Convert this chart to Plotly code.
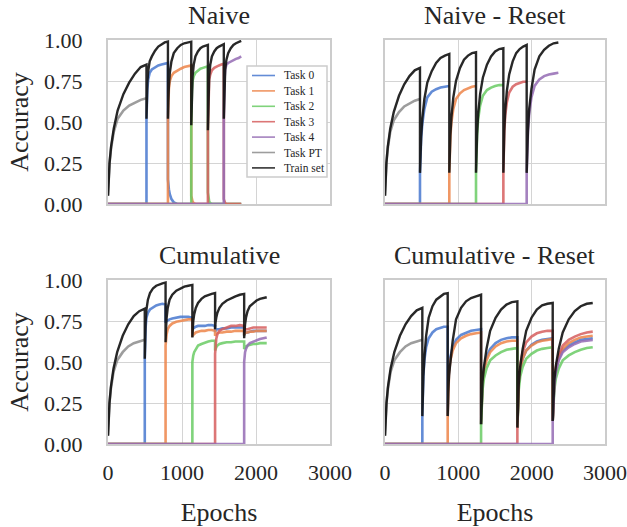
import plotly.graph_objects as go

# ---------------- data ----------------
# sample positions inside each training phase (fraction of the phase length)
FRAC = [0, 0.015, 0.04, 0.08, 0.15, 0.25, 0.4, 0.55, 0.7, 0.85, 1.0]
Z = [0, 0, 0, 0, 0, 0, 0, 0, 0, 0, 0]

SERIES_NAMES = ["Task 0", "Task 1", "Task 2", "Task 3", "Task 4", "Task PT", "Train set"]
COLORS = ["#4878d0", "#ee854a", "#6acc64", "#d65f5f", "#956cb4", "#8c8c8c", "#111111"]
PANEL_TITLES = ["Naive", "Naive - Reset", "Cumulative", "Cumulative - Reset"]
X_TICKS = [0, 1000, 2000, 3000]
Y_TICKS = [0, 0.25, 0.5, 0.75, 1.0]
Y_TICKTEXT = ["0.00", "0.25", "0.50", "0.75", "1.00"]

# ---- Naive ----
NV_BOUNDS = [0, 520, 810, 1125, 1350, 1565, 1800]
NV_TRAIN = [
    [0.05, 0.15, 0.25, 0.35, 0.46, 0.57, 0.67, 0.74, 0.795, 0.835, 0.85],
    [0.52, 0.64, 0.74, 0.81, 0.87, 0.90, 0.935, 0.96, 0.975, 0.985, 0.99],
    [0.52, 0.62, 0.72, 0.80, 0.87, 0.92, 0.95, 0.97, 0.98, 0.985, 0.99],
    [0.48, 0.60, 0.70, 0.78, 0.85, 0.90, 0.93, 0.95, 0.96, 0.965, 0.97],
    [0.45, 0.58, 0.69, 0.78, 0.85, 0.90, 0.93, 0.95, 0.96, 0.97, 0.975],
    [0.52, 0.64, 0.74, 0.82, 0.88, 0.92, 0.95, 0.97, 0.98, 0.99, 0.995]]
NV_PT = [[0.05, 0.15, 0.25, 0.34, 0.44, 0.52, 0.57, 0.60, 0.62, 0.635, 0.645],
         None, None, None, None, None]
NV_T0 = [Z, [0.52, 0.62, 0.70, 0.76, 0.80, 0.82, 0.835, 0.845, 0.85, 0.855, 0.86],
         [0.15, 0.12, 0.09, 0.06, 0.03, 0.01, 0, 0, 0, 0, 0], Z, Z, Z]
NV_T1 = [Z, Z, [0.52, 0.62, 0.70, 0.75, 0.78, 0.80, 0.815, 0.825, 0.835, 0.84, 0.845],
         [0.05, 0.04, 0.03, 0.015, 0.005, 0, 0, 0, 0, 0, 0], Z, Z]
NV_T2 = [Z, Z, Z, [0.48, 0.60, 0.69, 0.75, 0.78, 0.80, 0.815, 0.825, 0.83, 0.835, 0.84],
         [0.07, 0.05, 0.03, 0.015, 0.005, 0, 0, 0, 0, 0, 0], Z]
NV_T3 = [Z, Z, Z, Z, [0.45, 0.58, 0.69, 0.76, 0.79, 0.815, 0.83, 0.84, 0.845, 0.85, 0.855],
         [0.03, 0.02, 0.01, 0.005, 0, 0, 0, 0, 0, 0, 0]]
NV_T4 = [Z, Z, Z, Z, Z, [0.52, 0.65, 0.76, 0.82, 0.85, 0.86, 0.87, 0.88, 0.885, 0.89, 0.90]]

# ---- Naive - Reset ----
NR_BOUNDS = [0, 477, 877, 1241, 1614, 1932, 2364]
NR_TRAIN = [
    [0.05, 0.15, 0.25, 0.35, 0.46, 0.56, 0.66, 0.73, 0.78, 0.815, 0.83],
    [0.19, 0.30, 0.41, 0.52, 0.64, 0.74, 0.81, 0.86, 0.89, 0.905, 0.915],
    [0.19, 0.30, 0.42, 0.53, 0.65, 0.75, 0.83, 0.88, 0.905, 0.92, 0.925],
    [0.19, 0.31, 0.43, 0.55, 0.67, 0.77, 0.85, 0.90, 0.93, 0.945, 0.95],
    [0.19, 0.32, 0.45, 0.57, 0.69, 0.79, 0.87, 0.92, 0.945, 0.96, 0.97],
    [0.19, 0.32, 0.45, 0.58, 0.70, 0.82, 0.90, 0.94, 0.965, 0.98, 0.985]]
NR_PT = [[0.05, 0.15, 0.25, 0.34, 0.44, 0.51, 0.56, 0.595, 0.615, 0.63, 0.64],
         None, None, None, None, None]
NR_T0 = [Z, [0.19, 0.30, 0.40, 0.49, 0.58, 0.65, 0.685, 0.70, 0.71, 0.715, 0.72],
         None, None, None, None]
NR_T1 = [Z, Z, [0.19, 0.30, 0.41, 0.50, 0.58, 0.64, 0.675, 0.695, 0.705, 0.715, 0.72],
         None, None, None]
NR_T2 = [Z, Z, Z, [0.19, 0.31, 0.42, 0.52, 0.60, 0.66, 0.695, 0.71, 0.72, 0.725, 0.725],
         None, None]
NR_T3 = [Z, Z, Z, Z, [0.19, 0.32, 0.44, 0.54, 0.62, 0.68, 0.715, 0.73, 0.74, 0.745, 0.745],
         None]
NR_T4 = [Z, Z, Z, Z, Z, [0.19, 0.32, 0.44, 0.55, 0.65, 0.72, 0.76, 0.78, 0.79, 0.795, 0.80]]

# ---- Cumulative ----
CU_BOUNDS = [0, 497, 778, 1140, 1447, 1840, 2145]
CU_TRAIN = [
    [0.05, 0.15, 0.25, 0.35, 0.46, 0.56, 0.66, 0.73, 0.78, 0.81, 0.825],
    [0.52, 0.64, 0.74, 0.82, 0.88, 0.92, 0.95, 0.965, 0.975, 0.98, 0.985],
    [0.62, 0.70, 0.77, 0.83, 0.88, 0.91, 0.935, 0.95, 0.96, 0.965, 0.97],
    [0.65, 0.70, 0.75, 0.79, 0.83, 0.86, 0.885, 0.90, 0.91, 0.915, 0.92],
    [0.70, 0.74, 0.77, 0.80, 0.83, 0.855, 0.875, 0.89, 0.90, 0.91, 0.915],
    [0.645, 0.69, 0.73, 0.77, 0.81, 0.84, 0.86, 0.875, 0.885, 0.89, 0.895]]
CU_PT = [[0.05, 0.15, 0.25, 0.34, 0.44, 0.51, 0.56, 0.595, 0.615, 0.625, 0.635],
         None, None, None, None, None]
CU_T0 = [Z, [0.52, 0.62, 0.71, 0.77, 0.80, 0.82, 0.835, 0.845, 0.85, 0.855, 0.85],
         [0.74, 0.745, 0.75, 0.755, 0.76, 0.765, 0.77, 0.775, 0.775, 0.775, 0.77],
         [0.70, 0.70, 0.705, 0.71, 0.715, 0.72, 0.72, 0.72, 0.725, 0.725, 0.72],
         [0.69, 0.69, 0.695, 0.70, 0.70, 0.705, 0.705, 0.71, 0.71, 0.71, 0.71],
         [0.67, 0.67, 0.675, 0.68, 0.68, 0.685, 0.69, 0.69, 0.69, 0.69, 0.69]]
CU_T1 = [Z, Z, [0.60, 0.64, 0.67, 0.70, 0.72, 0.735, 0.745, 0.75, 0.755, 0.76, 0.76],
         [0.66, 0.66, 0.665, 0.67, 0.68, 0.685, 0.69, 0.69, 0.695, 0.695, 0.69],
         [0.66, 0.665, 0.67, 0.675, 0.68, 0.68, 0.685, 0.685, 0.69, 0.69, 0.69],
         [0.67, 0.67, 0.675, 0.68, 0.68, 0.685, 0.685, 0.69, 0.69, 0.69, 0.69]]
CU_T2 = [Z, Z, Z, [0.50, 0.52, 0.54, 0.56, 0.58, 0.60, 0.61, 0.62, 0.625, 0.63, 0.63],
         [0.57, 0.58, 0.59, 0.60, 0.61, 0.615, 0.62, 0.62, 0.625, 0.625, 0.625],
         [0.58, 0.585, 0.59, 0.595, 0.60, 0.605, 0.61, 0.61, 0.615, 0.615, 0.615]]
CU_T3 = [Z, Z, Z, Z, [0.55, 0.60, 0.64, 0.67, 0.69, 0.70, 0.71, 0.72, 0.72, 0.725, 0.72],
         [0.69, 0.69, 0.695, 0.70, 0.70, 0.705, 0.71, 0.71, 0.71, 0.71, 0.71]]
CU_T4 = [Z, Z, Z, Z, Z, [0.50, 0.53, 0.56, 0.58, 0.60, 0.615, 0.625, 0.635, 0.64, 0.645, 0.65]]

# ---- Cumulative - Reset ----
CR_BOUNDS = [0, 509, 855, 1310, 1805, 2287, 2833]
CR_TRAIN = [
    [0.05, 0.15, 0.25, 0.35, 0.46, 0.56, 0.66, 0.73, 0.78, 0.815, 0.83],
    [0.17, 0.30, 0.41, 0.52, 0.66, 0.77, 0.84, 0.88, 0.90, 0.915, 0.92],
    [0.17, 0.31, 0.42, 0.50, 0.63, 0.76, 0.83, 0.87, 0.89, 0.90, 0.91],
    [0.12, 0.27, 0.38, 0.47, 0.58, 0.69, 0.77, 0.82, 0.85, 0.865, 0.87],
    [0.10, 0.25, 0.37, 0.47, 0.58, 0.69, 0.77, 0.82, 0.845, 0.855, 0.86],
    [0.14, 0.28, 0.39, 0.48, 0.58, 0.68, 0.76, 0.81, 0.84, 0.855, 0.86]]
CR_PT = [[0.05, 0.15, 0.25, 0.34, 0.44, 0.51, 0.56, 0.595, 0.615, 0.625, 0.635],
         None, None, None, None, None]
CR_T0 = [Z, [0.17, 0.29, 0.41, 0.51, 0.59, 0.645, 0.68, 0.70, 0.71, 0.715, 0.715],
         [0.17, 0.33, 0.44, 0.53, 0.59, 0.635, 0.665, 0.68, 0.69, 0.695, 0.70],
         [0.12, 0.27, 0.38, 0.46, 0.53, 0.58, 0.615, 0.635, 0.645, 0.65, 0.65],
         [0.10, 0.26, 0.37, 0.45, 0.52, 0.57, 0.605, 0.625, 0.635, 0.64, 0.645],
         [0.14, 0.27, 0.37, 0.45, 0.52, 0.57, 0.60, 0.62, 0.635, 0.64, 0.645]]
CR_T1 = [Z, Z, [0.17, 0.32, 0.43, 0.51, 0.57, 0.615, 0.645, 0.66, 0.67, 0.675, 0.68],
         [0.12, 0.26, 0.36, 0.44, 0.51, 0.56, 0.595, 0.615, 0.625, 0.63, 0.63],
         [0.10, 0.26, 0.37, 0.45, 0.52, 0.57, 0.60, 0.62, 0.63, 0.635, 0.64],
         [0.14, 0.27, 0.38, 0.46, 0.53, 0.58, 0.615, 0.635, 0.65, 0.655, 0.66]]
CR_T2 = [Z, Z, Z, [0.12, 0.24, 0.33, 0.40, 0.46, 0.51, 0.54, 0.56, 0.575, 0.58, 0.585],
         [0.10, 0.23, 0.33, 0.41, 0.47, 0.52, 0.55, 0.57, 0.58, 0.585, 0.59],
         [0.14, 0.24, 0.33, 0.40, 0.46, 0.51, 0.54, 0.56, 0.575, 0.585, 0.59]]
CR_T3 = [Z, Z, Z, Z, [0.10, 0.27, 0.39, 0.48, 0.56, 0.62, 0.655, 0.675, 0.685, 0.69, 0.69],
         [0.14, 0.28, 0.39, 0.47, 0.54, 0.60, 0.635, 0.655, 0.67, 0.68, 0.685]]
CR_T4 = [Z, Z, Z, Z, Z, [0.14, 0.26, 0.36, 0.44, 0.51, 0.56, 0.59, 0.61, 0.625, 0.63, 0.635]]

PANELS = [
    (NV_BOUNDS, [NV_T0, NV_T1, NV_T2, NV_T3, NV_T4, NV_PT, NV_TRAIN]),
    (NR_BOUNDS, [NR_T0, NR_T1, NR_T2, NR_T3, NR_T4, NR_PT, NR_TRAIN]),
    (CU_BOUNDS, [CU_T0, CU_T1, CU_T2, CU_T3, CU_T4, CU_PT, CU_TRAIN]),
    (CR_BOUNDS, [CR_T0, CR_T1, CR_T2, CR_T3, CR_T4, CR_PT, CR_TRAIN]),
]


def assemble(bounds, phases):
    xs, ys = [], []
    for i, vals in enumerate(phases):
        if vals is None:
            if xs and xs[-1] is not None:
                xs.append(None)
                ys.append(None)
            continue
        a, b = bounds[i], bounds[i + 1]
        for f, v in zip(FRAC, vals):
            xs.append(a + f * (b - a))
            ys.append(v)
    return xs, ys


FONT = "Liberation Serif"
TXT = "#262626"
fig = go.Figure()

for p, (bounds, series) in enumerate(PANELS):
    xa = "x" if p == 0 else f"x{p + 1}"
    ya = "y" if p == 0 else f"y{p + 1}"
    for s, phases in enumerate(series):
        xs, ys = assemble(bounds, phases)
        fig.add_trace(go.Scatter(
            x=xs, y=ys, mode="lines", name=SERIES_NAMES[s],
            line=dict(color=COLORS[s], width=2.4 if s == 6 else 2.6),
            opacity=0.9 if s == 6 else 0.85,
            showlegend=False,
            xaxis=xa, yaxis=ya, hoverinfo="skip"))

# figure geometry (pixels)
W, H = 627, 527
ML, MR, MT, MB = 108, 22, 40, 83
PW, PH = W - ML - MR, H - MT - MB


def px_x(px):
    return (px - ML) / PW


def px_y(py):
    return (H - MB - py) / PH


XD = [[0, px_x(330)], [px_x(385), 1.0]]
YD = [[px_y(204), 1.0], [0.0, px_y(280)]]
GRID = "#d4d4d4"

layout = dict(
    width=W, height=H,
    margin=dict(l=ML, r=MR, t=MT, b=MB),
    paper_bgcolor="white", plot_bgcolor="white",
    font=dict(family=FONT, size=22, color=TXT),
    showlegend=False,
    annotations=[], shapes=[],
)

for p in range(4):
    r, c = divmod(p, 2)
    suffix = "" if p == 0 else str(p + 1)
    layout["xaxis" + suffix] = dict(
        domain=XD[c], anchor="y" + suffix, range=[0, 3000], automargin=False,
        tickvals=X_TICKS, showticklabels=(r == 1),
        showgrid=True, gridcolor=GRID, gridwidth=1,
        showline=True, mirror=True, linecolor="#cccccc", linewidth=2,
        zeroline=False, ticks="", ticklabelstandoff=8,
        tickfont=dict(size=22, family=FONT, color=TXT),
        title=dict(text="Epochs" if r == 1 else "", font=dict(size=26, family=FONT, color=TXT), standoff=19),
    )
    layout["yaxis" + suffix] = dict(
        domain=YD[r], anchor="x" + suffix, range=[0, 1.0], automargin=False,
        tickvals=Y_TICKS, ticktext=Y_TICKTEXT, showticklabels=(c == 0),
        showgrid=True, gridcolor=GRID, gridwidth=1,
        showline=True, mirror=True, linecolor="#cccccc", linewidth=2,
        zeroline=False, ticks="", ticklabelstandoff=19,
        tickfont=dict(size=22, family=FONT, color=TXT),
        title=dict(text="Accuracy" if c == 0 else "", font=dict(size=26, family=FONT, color=TXT), standoff=8),
    )
    layout["annotations"].append(dict(
        text=PANEL_TITLES[p], xref="paper", yref="paper",
        x=(XD[c][0] + XD[c][1]) / 2, y=YD[r][1], xanchor="center", yanchor="bottom",
        yshift=8, showarrow=False, font=dict(size=26, family=FONT, color=TXT)))

# custom compact legend inside the "Naive" panel
LEG_L, LEG_R, LEG_T, LEG_B = 247, 327, 66, 177
layout["shapes"].append(dict(
    type="rect", xref="paper", yref="paper", layer="above",
    x0=px_x(LEG_L), x1=px_x(LEG_R), y0=px_y(LEG_B), y1=px_y(LEG_T),
    fillcolor="white", line=dict(color="#cccccc", width=1.5)))
for i, name in enumerate(SERIES_NAMES):
    yy = px_y(75.5 + i * 15.4)
    layout["shapes"].append(dict(
        type="line", xref="paper", yref="paper", layer="above",
        x0=px_x(252), x1=px_x(275), y0=yy, y1=yy,
        line=dict(color=COLORS[i], width=1.6), opacity=0.85))
    layout["annotations"].append(dict(
        text=name, xref="paper", yref="paper", x=px_x(282), y=yy,
        xanchor="left", yanchor="middle", showarrow=False,
        font=dict(size=11.5, family=FONT, color=TXT)))

fig.update_layout(**layout)
fig.write_html("out.html")
